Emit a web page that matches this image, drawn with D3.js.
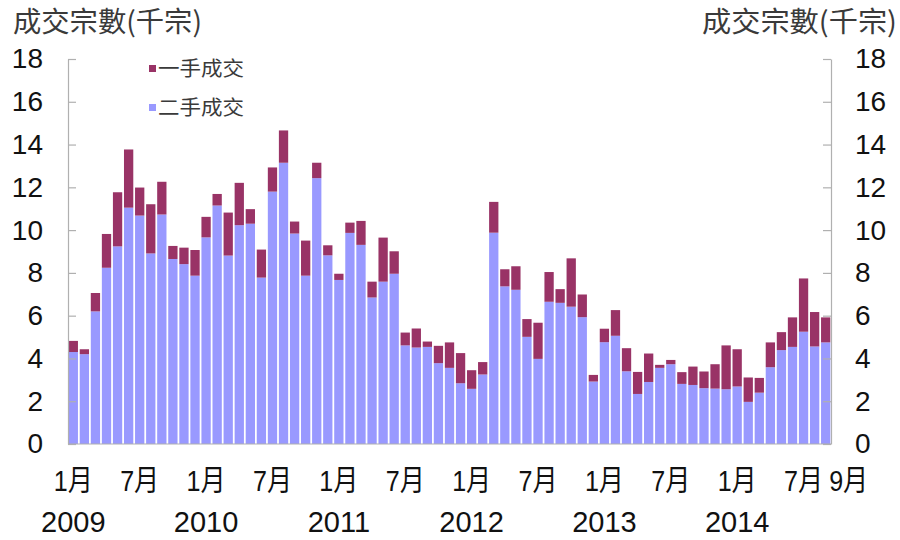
<!DOCTYPE html>
<html>
<head>
<meta charset="utf-8">
<script src="https://cdn.jsdelivr.net/npm/d3@7"></script>
<style>
  html, body { margin: 0; padding: 0; background: #fff; }
  svg { display: block; font-family: "Liberation Sans", Arial, "Noto Sans CJK TC", sans-serif; }
</style>
</head>
<body>
<svg id="chart" width="900" height="540"></svg>
<script>
// Monthly transactions, Jan 2009 – Sep 2014 (thousands)
const startMonth = new Date(2009, 0, 1);
const endMonth = new Date(2014, 9, 1);
const months = d3.timeMonth.range(startMonth, endMonth);

// 二手成交 (secondary market)
const secondary = [
  4.30, 4.20, 6.20, 8.24, 9.24, 11.05, 10.68, 8.91, 10.73, 8.65, 8.41, 7.87,
  9.66, 11.15, 8.81, 10.23, 10.30, 7.78, 11.80, 13.15, 9.84, 7.87, 12.43, 8.82,
  7.67, 9.87, 9.31, 6.85, 7.59, 7.96, 4.61, 4.51, 4.54, 3.78, 3.56, 2.84,
  2.58, 3.25, 9.88, 7.37, 7.21, 5.01, 3.98, 6.65, 6.60, 6.42, 5.93, 2.92,
  4.76, 5.06, 3.40, 2.34, 2.90, 3.56, 3.73, 2.81, 2.76, 2.61, 2.59, 2.56,
  2.69, 1.97, 2.40, 3.59, 4.39, 4.54, 5.25, 4.56, 4.75
];

// 一手成交 (primary market)
const primary = [
  0.52, 0.23, 0.86, 1.58, 2.53, 2.72, 1.31, 2.30, 1.53, 0.61, 0.77, 1.20,
  0.96, 0.54, 2.01, 1.98, 0.68, 1.31, 1.13, 1.51, 0.56, 1.64, 0.72, 0.47,
  0.29, 0.48, 1.12, 0.74, 2.06, 1.05, 0.60, 0.89, 0.25, 0.81, 1.19, 1.41,
  0.87, 0.58, 1.44, 0.80, 1.10, 0.83, 1.69, 1.39, 0.64, 2.26, 1.06, 0.31,
  0.63, 1.20, 1.08, 1.03, 1.33, 0.14, 0.20, 0.55, 0.86, 0.78, 1.14, 2.05,
  1.74, 1.14, 0.69, 1.16, 0.84, 1.38, 2.49, 1.61, 1.17
];

const seriesKeys = ["二手成交", "一手成交"];
const legendOrder = ["一手成交", "二手成交"];
const seriesColors = { "二手成交": "#9999ff", "一手成交": "#993366" };
const yTicks = [0, 2, 4, 6, 8, 10, 12, 14, 16, 18];
const yearLabels = ["2009", "2010", "2011", "2012", "2013", "2014"];
const axisTitle = "成交宗數(千宗)";

const rows = months.map((m, i) => ({
  i, month: m, "二手成交": secondary[i], "一手成交": primary[i]
}));

const svg = d3.select("#chart");
const plot = { left: 68, right: 831, top: 59, bottom: 444 };

const x = d3.scaleBand()
  .domain(rows.map(d => d.i))
  .range([plot.left, plot.right])
  .paddingInner(0.16)
  .paddingOuter(0.06);

const y = d3.scaleLinear().domain([0, 18]).range([plot.bottom, plot.top]);

const stacked = d3.stack().keys(seriesKeys)(rows);

// Stacked bars
svg.append("g").selectAll("g")
  .data(stacked)
  .join("g")
  .attr("fill", s => seriesColors[s.key])
  .selectAll("rect")
  .data(s => s)
  .join("rect")
  .attr("x", d => x(d.data.i))
  .attr("width", x.bandwidth())
  .attr("y", d => y(d[1]))
  .attr("height", d => y(d[0]) - y(d[1]));

// Baseline
svg.append("line")
  .attr("x1", plot.left).attr("x2", plot.right)
  .attr("y1", y(0)).attr("y2", y(0))
  .attr("stroke", "#b0b0b0").attr("stroke-width", 1.2);

// Left and right value axes
const styleAxis = g => {
  g.select(".domain").attr("stroke", "#b0b0b0").attr("stroke-width", 1.2);
  g.selectAll(".tick line").attr("stroke", "#b0b0b0").attr("stroke-width", 1.2);
  g.selectAll(".tick text").attr("fill", "#111").attr("font-size", 28)
    .attr("font-family", "'Liberation Sans', Arial, sans-serif");
};

svg.append("g")
  .attr("transform", `translate(${plot.left},0)`)
  .call(d3.axisLeft(y).tickValues(yTicks).tickSizeInner(-8).tickSizeOuter(0).tickPadding(25))
  .call(styleAxis);

svg.append("g")
  .attr("transform", `translate(${plot.right},0)`)
  .call(d3.axisRight(y).tickValues(yTicks).tickSizeInner(-8).tickSizeOuter(0).tickPadding(24))
  .call(styleAxis);

// Month labels along the bottom
const monthTicks = rows.filter(d => d.month.getMonth() === 0 || d.month.getMonth() === 6);
const lastRow = rows[rows.length - 1];
const monthLabelData = monthTicks.map(d => ({ row: d, text: (d.month.getMonth() + 1) + "月", shift: 0 }))
  .concat([{ row: lastRow, text: (lastRow.month.getMonth() + 1) + "月", shift: 23 }]);

svg.append("g").selectAll("text")
  .data(monthLabelData)
  .join("text")
  .attr("x", d => x(d.row.i) + x.bandwidth() / 2 + d.shift)
  .attr("y", 491)
  .attr("text-anchor", "middle")
  .attr("font-size", 29)
  .attr("fill", "#111")
  .attr("textLength", 39)
  .attr("lengthAdjust", "spacingAndGlyphs")
  .text(d => d.text);

// Year labels under each January
const janRows = rows.filter(d => d.month.getMonth() === 0);
svg.append("g").selectAll("text")
  .data(janRows)
  .join("text")
  .attr("x", d => x(d.i) + x.bandwidth() / 2)
  .attr("y", 532)
  .attr("text-anchor", "middle")
  .attr("font-size", 29)
  .attr("fill", "#111")
  .text((d, i) => yearLabels[i]);

// Axis titles
svg.append("text")
  .attr("x", 13).attr("y", 32)
  .attr("font-size", 28).attr("fill", "#3a3a3a")
  .attr("font-family", "'Noto Sans CJK TC', sans-serif")
  .attr("textLength", 189).attr("lengthAdjust", "spacingAndGlyphs")
  .text(axisTitle);

svg.append("text")
  .attr("x", 897).attr("y", 32)
  .attr("text-anchor", "end")
  .attr("font-size", 28).attr("fill", "#3a3a3a")
  .attr("font-family", "'Noto Sans CJK TC', sans-serif")
  .attr("textLength", 195).attr("lengthAdjust", "spacingAndGlyphs")
  .text(axisTitle);

// Legend
const legend = svg.append("g").selectAll("g")
  .data(legendOrder)
  .join("g")
  .attr("transform", (d, i) => `translate(149,${69 + i * 39})`);

legend.append("rect")
  .attr("x", 0).attr("y", -4)
  .attr("width", 7).attr("height", 7)
  .attr("fill", d => seriesColors[d]);

legend.append("text")
  .attr("x", 9).attr("y", 7)
  .attr("font-size", 20).attr("fill", "#3a3a3a")
  .attr("font-family", "'Noto Sans CJK TC', sans-serif")
  .attr("textLength", 86).attr("lengthAdjust", "spacingAndGlyphs")
  .text(d => d);
</script>
</body>
</html>
